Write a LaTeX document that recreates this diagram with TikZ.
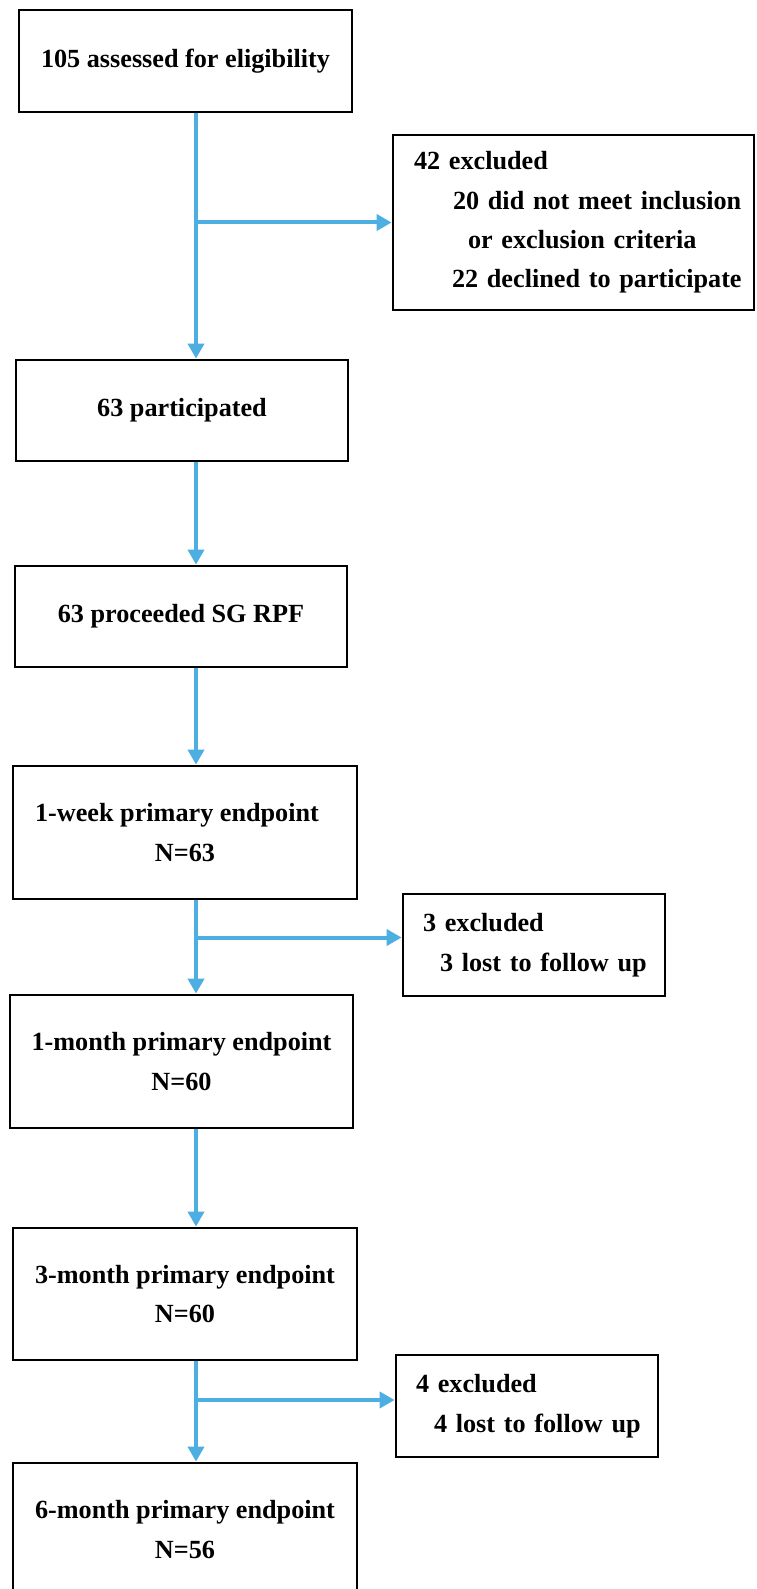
\documentclass[tikz,border=0pt]{standalone}
\usepackage{fontspec}
\setmainfont{Liberation Serif}
\usetikzlibrary{arrows.meta}
\definecolor{flowblue}{HTML}{4DAFE1}
\begin{document}
\begin{tikzpicture}[x=0.5pt, y=-0.5pt,
  box/.style={draw, line width=1.4pt, inner sep=0pt, align=center,
    font=\bfseries\fontsize{13.1}{19.7}\selectfont},
  exbox/.style={box, align=left, text width=#1},
  flow/.style={draw=flowblue, line width=2pt,
    -{Triangle[length=7.5pt, width=8pt]}}]
  \useasboundingbox (0,0) rectangle (756,1589);
  % main column
  \node[box, minimum width=166.5pt, minimum height=51pt] (assessed) at (185.5,61)
    {105 assessed for eligibility};
  \node[box, minimum width=166pt, minimum height=50.5pt] (part) at (182,410.5)
    {63 participated};
  \node[box, minimum width=166pt, minimum height=50.5pt] (rpf) at (181,616.5)
    {63 proceeded SG RPF};
  \node[box, minimum width=172pt, minimum height=66.5pt] (week) at (185,832.5)
    {1-week primary endpoint\hspace*{8pt}\\ N=63};
  \node[box, minimum width=171.5pt, minimum height=66.5pt] (month) at (181.5,1061.5)
    {1-month primary endpoint\\ N=60};
  \node[box, minimum width=172pt, minimum height=66pt] (three) at (185,1294)
    {3-month primary endpoint\\ N=60};
  \node[box, minimum width=172pt, minimum height=66.5pt] (six) at (185,1529.5)
    {6-month primary endpoint\\ N=56};
  % exclusions
  \node[exbox=180.5pt, minimum height=87.5pt] (excl) at (573.5,222.5)
    {\hspace*{10.5pt}42 excluded\\
     \hspace*{30pt}20 did not meet inclusion\\
     \hspace*{37.5pt}or exclusion criteria\\
     \hspace*{29.5pt}22 declined to participate};
  \node[exbox=131pt, minimum height=51pt] (lostA) at (534,945)
    {\hspace*{10pt}3 excluded\\ \hspace*{18.5pt}3 lost to follow up};
  \node[exbox=131pt, minimum height=51pt] (lostB) at (527,1406)
    {\hspace*{10pt}4 excluded\\ \hspace*{19pt}4 lost to follow up};
  % arrows
  \coordinate (spine) at (196,0);
  \draw[flow] (assessed.south -| spine) -- (part.north -| spine);
  \draw[flow] (excl.west -| spine) -- (excl.west);
  \draw[flow] (part.south -| spine) -- (rpf.north -| spine);
  \draw[flow] (rpf.south -| spine) -- (week.north -| spine);
  \draw[flow] (week.south -| spine) -- (month.north -| spine);
  \draw[flow] ([yshift=3.75pt]lostA.west -| spine) -- ([yshift=3.75pt]lostA.west);
  \draw[flow] (month.south -| spine) -- (three.north -| spine);
  \draw[flow] (three.south -| spine) -- (six.north -| spine);
  \draw[flow] ([yshift=3pt]lostB.west -| spine) -- ([yshift=3pt]lostB.west);
\end{tikzpicture}
\end{document}
